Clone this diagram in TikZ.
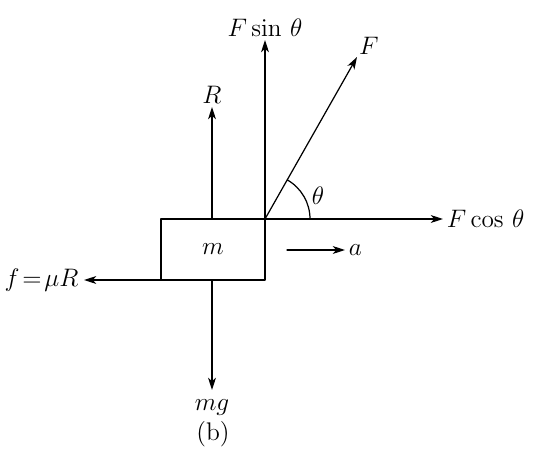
\documentclass[tikz,border=0pt]{standalone}
\usepackage{amsmath,amssymb}
\usepackage{xcolor}
\usetikzlibrary{calc,arrows.meta}

\begin{document}
\begin{tikzpicture}[x=0.02cm,y=-0.02cm,line cap=round, line join=round,>={Stealth[length=7pt,width=4.5pt,inset=2pt]},font=\fontsize{14.5}{17}\selectfont]
\useasboundingbox (0,0) rectangle (537,449);
\coordinate (O) at (265,219);
\coordinate (T) at (212,219);
\coordinate (U) at (212,280);
\coordinate (P) at (161,280);
\coordinate (S) at (265,40);
\coordinate (F) at (357,57);
\coordinate (C) at (443,219);
\coordinate (R) at (212,107);
\coordinate (G) at (212,390);
\coordinate (L) at (84,280);
\coordinate (A1) at (287,250);
\coordinate (A2) at (345,250);
\draw[line width=0.7pt] (161,219) rectangle (265,280);
\node at (213,249) {$m$};
\draw[line width=0.7pt,->] (O) -- (S);
\draw[line width=0.7pt,->] (O) -- (F);
\draw[line width=0.7pt,->] (O) -- (C);
\draw[line width=0.7pt,->] (T) -- (R);
\draw[line width=0.7pt,->] (U) -- (G);
\draw[line width=0.7pt,->] (P) -- (L);
\draw[line width=0.7pt,->] (A1) -- (A2);
\draw[line width=0.7pt] ($(O)+(45,0)$) arc[start angle=0,end angle=-60.3,radius=45];
\node[above,inner sep=2pt] at (S) {$F\sin\,\theta$};
\node[above right,inner sep=1pt] at (F) {$F$};
\node[right,inner sep=2pt] at (C) {$F\cos\,\theta$};
\node[above,inner sep=2pt] at (R) {$R$};
\node[below,inner sep=5pt] at (G) {$mg$};
\node[left,inner sep=3pt] at (L) {$f\!=\!\mu R$};
\node[right,inner sep=2pt] at (A2) {$a$};
\node at (318,196) {$\theta$};
\node at (213,434) {(b)};
\end{tikzpicture}
\end{document}
